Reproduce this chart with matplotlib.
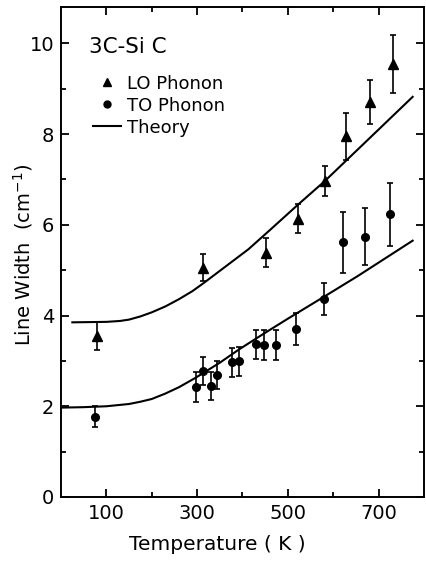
import matplotlib
matplotlib.use("Agg")
import matplotlib.pyplot as plt
from matplotlib.lines import Line2D
from matplotlib.ticker import FixedLocator, MultipleLocator

# ---- data ----
LO_T = [79, 313, 452, 523, 581, 629, 680, 732]
LO_W = [3.55, 5.05, 5.38, 6.13, 6.97, 7.95, 8.71, 9.55]
LO_err = [0.31, 0.30, 0.32, 0.32, 0.33, 0.52, 0.49, 0.64]

TO_T = [76, 298, 312, 330, 343, 376, 392, 430, 448, 473, 519, 579, 621, 670, 725]
TO_W = [1.77, 2.43, 2.78, 2.45, 2.69, 2.97, 2.99, 3.37, 3.35, 3.36, 3.71, 4.36, 5.61, 5.74, 6.23]
TO_err = [0.23, 0.33, 0.31, 0.31, 0.31, 0.32, 0.32, 0.32, 0.32, 0.33, 0.35, 0.35, 0.67, 0.62, 0.70]

theory_LO_T = [25, 100, 130, 150, 175, 200, 230, 260, 290, 315, 360, 413, 460, 523, 581, 629, 700, 775]
theory_LO_W = [3.85, 3.86, 3.88, 3.91, 3.98, 4.07, 4.20, 4.36, 4.54, 4.72, 5.06, 5.46, 5.88, 6.45, 6.96, 7.42, 8.10, 8.82]
theory_TO_T = [0, 50, 100, 150, 175, 200, 230, 260, 297, 350, 392, 450, 500, 579, 654, 775]
theory_TO_W = [1.97, 1.98, 2.00, 2.05, 2.10, 2.16, 2.28, 2.42, 2.63, 2.96, 3.25, 3.62, 3.93, 4.41, 4.87, 5.65]

x_major = [100, 300, 500, 700]
x_minor = [200, 400, 600]
y_major = [0, 2, 4, 6, 8, 10]

plt.rcParams['font.family'] = ['DejaVu Sans']

fig = plt.figure(figsize=(4.26, 5.63), dpi=100)
ax = fig.add_axes([61/426, 1-497/563, (424-61)/426, (497-7)/563])

lw = 1.5
ax.plot(theory_LO_T, theory_LO_W, color='black', lw=lw)
ax.plot(theory_TO_T, theory_TO_W, color='black', lw=lw)
ax.errorbar(LO_T, LO_W, yerr=LO_err, fmt='^', color='black', ms=6.5,
            elinewidth=1.2, capsize=2.5, capthick=1.2)
ax.errorbar(TO_T, TO_W, yerr=TO_err, fmt='o', color='black', ms=5.5,
            elinewidth=1.2, capsize=2.5, capthick=1.2)

ax.set_xlim(0, 800)
ax.set_ylim(0, 10.8)
ax.xaxis.set_major_locator(FixedLocator(x_major))
ax.xaxis.set_minor_locator(FixedLocator(x_minor))
ax.yaxis.set_major_locator(FixedLocator(y_major))
ax.yaxis.set_minor_locator(MultipleLocator(1))
ax.tick_params(which='both', direction='in', top=True, right=True, width=1.3)
ax.tick_params(which='major', length=5.5, labelsize=14, pad=5)
ax.tick_params(which='minor', length=3.5)
for s in ax.spines.values():
    s.set_linewidth(1.4)

ax.set_xlabel('Temperature ( K )', fontsize=14.5)
ax.xaxis.label.set_va('center')
ax.xaxis.set_label_coords((217-61)/363, -(545-497)/490)
ax.set_ylabel('Line Width  (cm$^{-1}$)', fontsize=14)
ax.yaxis.label.set_va('center')
ax.yaxis.set_label_coords((23-61)/363, 1-(255-7)/490)

ax.text(0.077, 0.919, '3C-Si C', transform=ax.transAxes, fontsize=15.5,
        ha='left', va='center')
handles = [Line2D([], [], marker='^', color='black', ls='none', ms=6),
           Line2D([], [], marker='o', color='black', ls='none', ms=5),
           Line2D([], [], color='black', lw=lw)]
ax.legend(handles, ['LO Phonon', 'TO Phonon', 'Theory'], loc='upper left',
          bbox_to_anchor=(0.087, 0.862), frameon=False, fontsize=13,
          borderpad=0, borderaxespad=0, handlelength=1.6, handletextpad=0.3,
          labelspacing=0.22)

fig.savefig('out.png', dpi=100)
